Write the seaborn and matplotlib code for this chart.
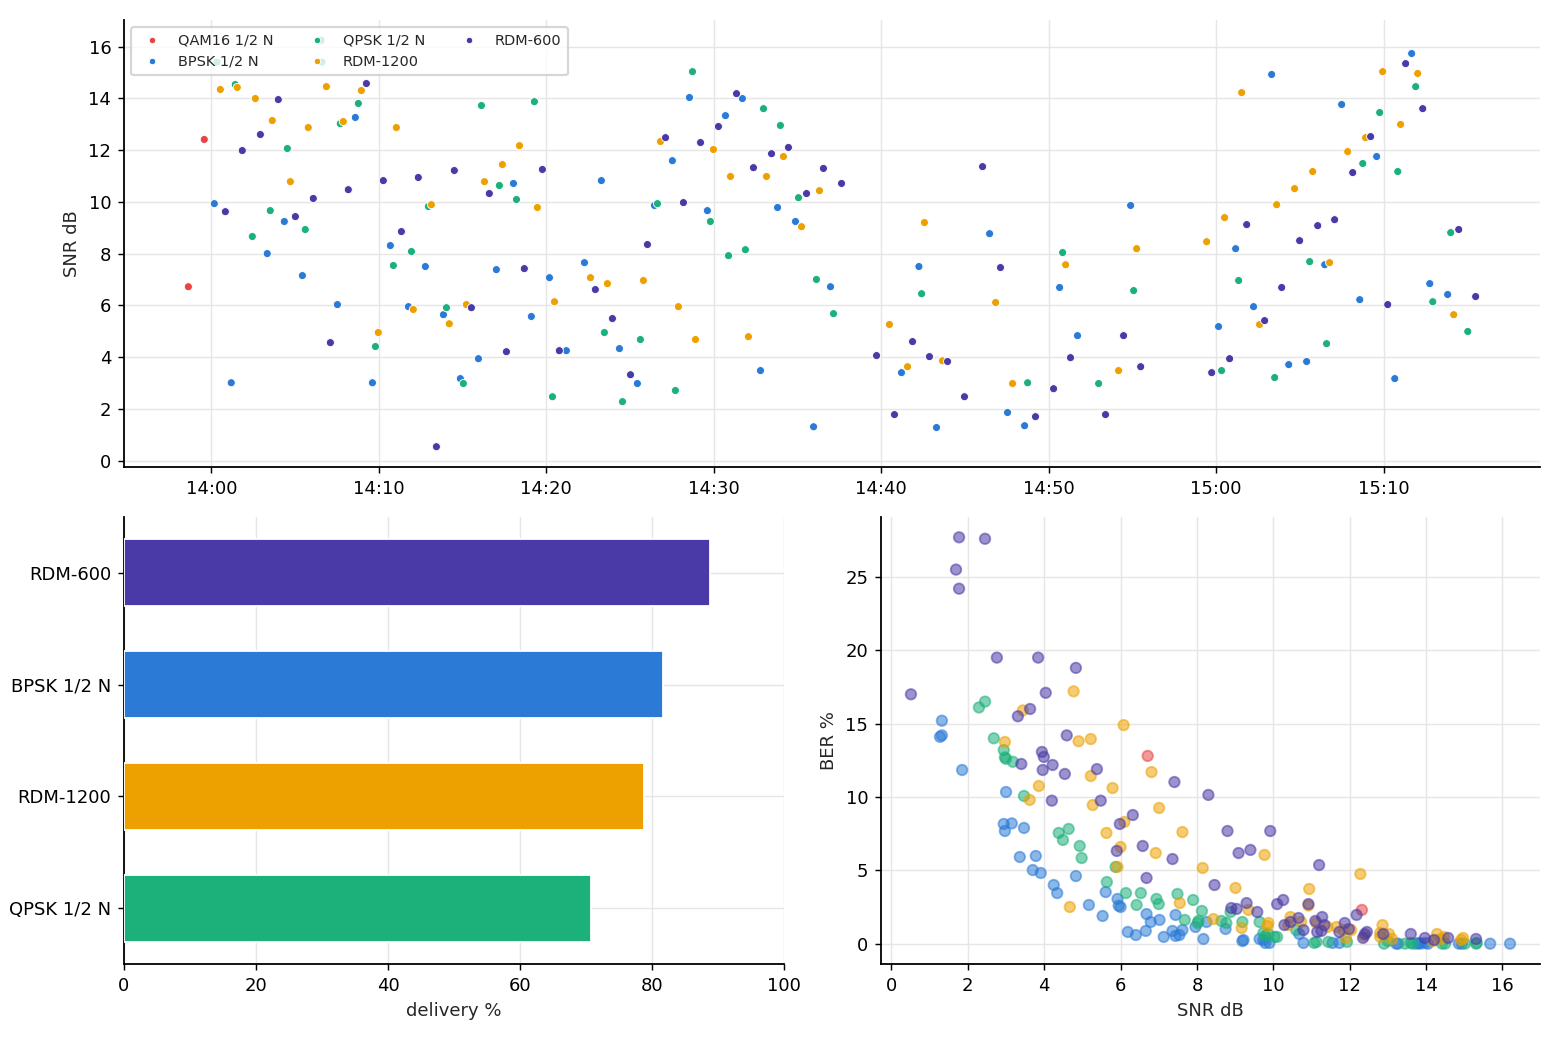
import numpy as np
import pandas as pd
import matplotlib
matplotlib.use("Agg")
import matplotlib.pyplot as plt
import matplotlib.dates as mdates
import seaborn as sns

# ---------------- data ----------------
SERIES = ["QAM16 1/2 N", "BPSK 1/2 N", "QPSK 1/2 N", "RDM-1200", "RDM-600"]
COLORS = ["#e84444", "#2a7ad6", "#1cb07a", "#eda100", "#4a3aa7"]

# SNR over time (minutes after 14:00, SNR dB)
qam_min = [-0.42, -1.37]
qam_snr = [12.41, 6.72]

bpsk_min = [0.18, 4.36, 3.34, 5.44, 8.60, 7.53, 10.69, 12.78, 11.77, 13.86, 15.95, 1.19, 9.62, 14.87,
            18.04, 17.02, 20.19, 19.11, 23.29, 22.28, 21.20, 24.37, 25.44, 26.46, 27.53, 28.55, 29.62,
            30.70, 31.71, 32.79, 33.81, 34.88, 36.97, 35.96, 41.21, 42.25, 43.30, 46.47, 47.54, 48.56,
            50.65, 51.72, 54.89, 60.14, 61.16, 62.23, 63.31, 64.33, 65.40, 66.48, 67.49, 68.57, 69.58,
            70.66, 71.67, 72.75, 73.82]
bpsk_snr = [9.93, 9.24, 8.00, 7.15, 13.26, 6.03, 8.31, 7.50, 5.95, 5.64, 3.94, 3.01, 3.01, 3.17,
            10.71, 7.38, 7.07, 5.57, 10.82, 7.65, 4.25, 4.33, 2.98, 9.86, 11.59, 14.03, 9.66,
            13.33, 13.99, 3.48, 9.78, 9.24, 6.72, 1.31, 3.40, 7.50, 1.28, 8.77, 1.86, 1.35,
            6.69, 4.83, 9.86, 5.18, 8.19, 5.95, 14.92, 3.71, 3.83, 7.57, 13.76, 6.22, 11.75,
            3.17, 15.73, 6.84, 6.42]

qpsk_min = [0.34, 6.55, 6.61, 1.43, 8.78, 7.70, 4.54, 16.13, 19.29, 3.52, 5.61, 2.45, 11.95, 10.87,
            12.96, 14.04, 9.80, 15.05, 17.20, 18.22, 26.64, 29.80, 28.73, 32.97, 33.98, 35.06, 30.88,
            31.89, 36.13, 37.15, 23.47, 25.62, 20.37, 24.55, 27.71, 42.41, 50.83, 55.07, 48.74, 52.98,
            71.91, 69.76, 68.75, 70.84, 74.00, 65.58, 61.34, 72.93, 75.02, 66.59, 60.32, 63.49]
qpsk_snr = [15.40, 16.24, 15.40, 14.53, 13.80, 13.02, 12.06, 13.72, 13.87, 9.66, 8.93, 8.66, 8.08, 7.54,
            9.82, 5.91, 4.41, 2.98, 10.63, 10.09, 9.93, 9.24, 15.03, 13.60, 12.95, 10.16, 7.92,
            8.15, 7.00, 5.68, 4.95, 4.68, 2.47, 2.28, 2.71, 6.45, 8.04, 6.57, 3.01, 2.98,
            14.45, 13.45, 11.48, 11.17, 8.81, 7.69, 6.96, 6.14, 4.99, 4.52, 3.48, 3.21]

rdm1200_min = [0.54, 1.55, 2.63, 3.64, 5.79, 6.87, 7.88, 8.96, 11.05, 4.72, 13.14, 12.06, 14.21, 15.23,
               9.97, 16.31, 17.38, 18.40, 19.47, 20.49, 22.64, 23.65, 25.80, 26.82, 27.89, 28.91, 29.98,
               31.00, 32.07, 33.15, 34.16, 35.24, 36.31, 40.49, 41.57, 42.58, 43.66, 46.83, 47.84, 51.01,
               54.17, 55.25, 59.43, 60.50, 61.52, 62.59, 63.61, 64.68, 65.76, 66.77, 67.85, 68.92, 69.94,
               71.01, 72.03, 74.18]
rdm1200_snr = [14.34, 14.42, 13.99, 13.14, 12.87, 14.45, 13.10, 14.30, 12.87, 10.78, 9.89, 5.84, 5.29, 6.03,
               4.95, 10.78, 11.44, 12.17, 9.78, 6.14, 7.07, 6.84, 6.96, 12.33, 5.95, 4.68, 12.02,
               10.98, 4.79, 10.98, 11.75, 9.04, 10.43, 5.26, 3.63, 9.20, 3.86, 6.11, 2.98, 7.57,
               3.48, 8.19, 8.46, 9.39, 14.22, 5.26, 9.89, 10.51, 11.17, 7.65, 11.94, 12.48, 15.03,
               12.99, 14.96, 5.64]

rdm600_min = [0.84, 1.85, 2.93, 4.00, 5.02, 6.09, 7.11, 8.18, 9.26, 10.27, 11.35, 12.36, 13.44, 14.51,
              15.53, 16.60, 17.62, 18.69, 19.77, 20.78, 22.93, 23.95, 25.03, 26.04, 27.12, 28.19, 29.21,
              30.28, 31.36, 32.37, 33.45, 34.46, 35.54, 36.55, 37.63, 39.72, 40.79, 41.87, 42.88, 43.96,
              44.97, 46.05, 47.12, 49.21, 50.29, 51.30, 53.39, 54.47, 55.49, 59.73, 60.80, 61.82, 62.89,
              63.91, 64.98, 66.06, 67.07, 68.15, 69.22, 70.24, 71.31, 72.33, 74.48, 75.49]
rdm600_snr = [9.62, 11.98, 12.60, 13.95, 9.43, 10.13, 4.56, 10.47, 14.57, 10.82, 8.85, 10.94, 0.54, 11.21,
              5.91, 10.32, 4.21, 7.42, 11.25, 4.25, 6.61, 5.49, 3.32, 8.35, 12.48, 9.97, 12.29,
              12.91, 14.18, 11.32, 11.86, 12.10, 10.32, 11.29, 10.71, 4.06, 1.78, 4.60, 4.02, 3.83,
              2.47, 11.36, 7.46, 1.70, 2.78, 3.98, 1.78, 4.83, 3.63, 3.40, 3.94, 9.12, 5.41,
              6.69, 8.50, 9.08, 9.31, 11.13, 12.52, 6.03, 15.34, 13.60, 8.93, 6.34]

# delivery %
bar_names = ["RDM-600", "BPSK 1/2 N", "RDM-1200", "QPSK 1/2 N"]
bar_values = [88.8, 81.7, 78.8, 70.8]

# BER % vs SNR dB
qam_ber_snr = [6.71, 12.32]
qam_ber = [12.8, 2.3]

bpsk_ber_snr = [1.32, 1.27, 1.32, 1.85, 3.00, 2.94, 3.15, 2.97, 3.47, 3.36, 3.78, 3.70, 3.91, 4.83, 4.25,
                4.34, 5.17, 5.53, 5.61, 5.92, 5.95, 6.00, 6.68, 7.44, 6.79, 7.02, 8.25, 7.96, 8.75, 10.68,
                6.19, 6.40, 6.66, 7.13, 7.36, 7.44, 7.54, 7.62, 8.17, 9.19, 9.22, 9.64, 9.74, 9.79, 9.90,
                10.79, 13.22, 13.27, 13.76, 13.81, 13.86, 13.97, 14.05, 14.86, 14.94, 15.68, 16.20, 11.55, 11.73]
bpsk_ber = [15.2, 14.1, 14.2, 11.84, 10.34, 8.16, 8.2, 7.68, 7.89, 5.91, 5.98, 5.02, 4.82, 4.61, 4.0,
            3.45, 2.64, 1.89, 3.52, 3.05, 2.59, 2.5, 2.02, 1.96, 1.48, 1.62, 1.48, 1.14, 1.0, 0.66,
            0.8, 0.59, 0.87, 0.46, 0.87, 0.53, 0.59, 0.93, 0.32, 0.18, 0.25, 0.32, 0.25, 0.05, 0.05,
            0.05, 0.0, 0.0, 0.0, 0.05, 0.0, 0.05, 0.0, 0.0, 0.0, 0.0, 0.0, 0.05, 0.05]

qpsk_ber_snr = [2.45, 2.29, 2.68, 2.94, 2.97, 3.00, 3.18, 3.47, 4.38, 4.64, 4.49, 4.93, 4.98, 5.87, 5.64,
                6.14, 6.53, 7.49, 6.94, 7.90, 6.42, 7.00, 8.88, 8.13, 7.68, 8.64, 8.77, 8.02, 8.04, 9.19,
                9.64, 10.60, 9.74, 9.87, 9.79, 10.03, 10.10, 11.07, 11.13, 11.44, 11.93, 12.90, 13.00, 13.45,
                13.60, 13.65, 14.42, 14.50, 15.02, 15.31, 15.33]
qpsk_ber = [16.5, 16.1, 14.0, 13.2, 12.7, 12.6, 12.4, 10.07, 7.55, 7.82, 7.07, 6.66, 5.84, 5.23, 4.2,
            3.45, 3.45, 3.39, 3.05, 2.98, 2.64, 2.7, 2.16, 2.23, 1.62, 1.55, 1.41, 1.41, 1.55, 1.48,
            1.48, 0.93, 0.73, 0.66, 0.53, 0.46, 0.46, 0.05, 0.12, 0.12, 0.12, 0.0, 0.18, 0.0,
            0.05, 0.0, 0.0, 0.0, 0.0, 0.0, 0.05]

rdm1200_ber_snr = [4.77, 3.44, 2.97, 4.90, 5.22, 5.22, 3.86, 3.62, 5.27, 6.08, 6.81, 5.79, 7.01, 6.10, 5.63,
                   7.62, 6.00, 6.92, 9.77, 5.92, 8.15, 9.01, 10.94, 4.67, 7.55, 9.35, 8.43, 9.17, 9.87, 9.85,
                   10.39, 10.45, 10.73, 10.92, 12.28, 11.13, 11.42, 11.66, 11.83, 12.04, 11.90, 12.38, 12.86,
                   12.80, 12.80, 13.03, 13.11, 14.18, 14.29, 14.39, 14.47, 14.92, 14.97]
rdm1200_ber = [17.2, 15.9, 13.75, 13.8, 13.95, 11.43, 10.75, 9.8, 9.45, 14.9, 11.7, 10.61, 9.25, 8.3, 7.55,
               7.61, 6.59, 6.18, 6.05, 5.23, 5.16, 3.8, 3.73, 2.5, 2.77, 2.3, 1.68, 1.07, 1.41, 1.2,
               1.27, 1.82, 1.48, 2.6, 4.75, 1.41, 1.14, 1.14, 0.93, 0.93, 0.39, 0.53, 1.27,
               0.73, 0.46, 0.66, 0.32, 0.18, 0.66, 0.32, 0.46, 0.25, 0.39]

rdm600_ber_snr = [1.77, 2.45, 1.69, 1.77, 2.76, 3.84, 4.83, 0.51, 4.04, 3.63, 3.31, 4.59, 3.40, 3.94, 3.99,
                  4.22, 3.96, 4.54, 5.38, 4.20, 5.48, 7.41, 8.30, 6.32, 5.98, 8.80, 9.92, 5.90, 6.58, 9.09,
                  9.40, 7.36, 6.68, 8.46, 8.90, 9.04, 9.30, 9.58, 10.10, 10.26, 10.92, 10.29, 10.45, 10.66,
                  10.79, 11.20, 11.28, 11.10, 11.34, 11.15, 11.26, 12.18, 11.87, 11.73, 11.98, 12.35, 12.40,
                  12.45, 12.88, 13.60, 13.97, 14.21, 14.58, 15.31]
rdm600_ber = [27.7, 27.6, 25.5, 24.2, 19.5, 19.5, 18.8, 17.0, 17.1, 16.0, 15.5, 14.2, 12.25, 13.07, 12.73,
              12.18, 11.84, 11.57, 11.9, 9.75, 9.75, 11.02, 10.14, 8.77, 8.16, 7.68, 7.68, 6.32, 6.66, 6.18,
              6.39, 5.77, 4.48, 4.0, 2.43, 2.37, 2.77, 2.16, 2.7, 2.98, 2.7, 1.27, 1.48, 1.75,
              0.93, 5.36, 1.82, 1.55, 1.27, 0.8, 0.87, 1.96, 1.41, 0.8, 1.0, 0.39, 0.66,
              0.8, 0.66, 0.66, 0.39, 0.25, 0.39, 0.32]

# ---------------- frames ----------------
base = pd.Timestamp("2024-01-01 14:00:00")
snr_parts = []
for name, mins, snr in [(SERIES[0], qam_min, qam_snr), (SERIES[1], bpsk_min, bpsk_snr),
                        (SERIES[2], qpsk_min, qpsk_snr), (SERIES[3], rdm1200_min, rdm1200_snr),
                        (SERIES[4], rdm600_min, rdm600_snr)]:
    snr_parts.append(pd.DataFrame({"time": base + pd.to_timedelta(mins, unit="m"),
                                   "snr": snr, "mode": name}))
df_snr = pd.concat(snr_parts, ignore_index=True)

ber_parts = []
for name, snr, ber in [(SERIES[0], qam_ber_snr, qam_ber), (SERIES[1], bpsk_ber_snr, bpsk_ber),
                       (SERIES[2], qpsk_ber_snr, qpsk_ber), (SERIES[3], rdm1200_ber_snr, rdm1200_ber),
                       (SERIES[4], rdm600_ber_snr, rdm600_ber)]:
    ber_parts.append(pd.DataFrame({"snr": snr, "ber": ber, "mode": name}))
df_ber = pd.concat(ber_parts, ignore_index=True)

df_bar = pd.DataFrame({"mode": bar_names, "delivery": bar_values})
palette = dict(zip(SERIES, COLORS))

# ---------------- plot ----------------
sns.set_theme(style="ticks")
plt.rcParams["font.family"] = ["DejaVu Sans"]
plt.rcParams.update({
    "axes.edgecolor": "black",
    "axes.linewidth": 1.0,
    "xtick.color": "black",
    "ytick.color": "black",
    "xtick.major.size": 3.5,
    "ytick.major.size": 3.5,
    "xtick.major.width": 0.8,
    "ytick.major.width": 0.8,
    "font.size": 10,
    "axes.labelsize": 10,
    "xtick.labelsize": 10,
    "ytick.labelsize": 10,
})

fig = plt.figure(figsize=(12, 8), dpi=130)
W, H = 1560, 1040
ax_top = fig.add_axes([124 / W, 1 - 467 / H, (1540 - 124) / W, (467 - 20) / H])
ax_bar = fig.add_axes([124 / W, 1 - 964 / H, (784 - 124) / W, (964 - 517) / H])
ax_ber = fig.add_axes([881 / W, 1 - 964 / H, (1540 - 881) / W, (964 - 517) / H])

grid_kw = dict(color="#e6e6e6", linewidth=0.8)

# top: SNR over time
sns.scatterplot(data=df_snr, x="time", y="snr", hue="mode", hue_order=SERIES, palette=palette,
                s=20, edgecolor="white", linewidth=0.5, ax=ax_top, zorder=3)
ax_top.set_xlabel("")
ax_top.set_ylabel("SNR dB")
ax_top.xaxis.set_major_locator(mdates.MinuteLocator(byminute=range(0, 60, 10)))
ax_top.xaxis.set_major_formatter(mdates.DateFormatter("%H:%M"))
ax_top.grid(True, **grid_kw)
ax_top.set_axisbelow(True)
leg = ax_top.legend(loc="upper left", ncol=3, fontsize=8, frameon=True, markerscale=0.8,
                    columnspacing=2.0, handletextpad=0.8, borderpad=0.45)
leg.get_frame().set_edgecolor("#cccccc")
leg.get_frame().set_linewidth(1.2)
sns.despine(ax=ax_top)

# bottom-left: delivery
sns.barplot(data=df_bar, y="mode", x="delivery", hue="mode", order=bar_names, hue_order=bar_names,
            palette=palette, width=0.6, legend=False, saturation=1, ax=ax_bar, zorder=3)
ax_bar.set_xlim(0, 100)
ax_bar.set_xlabel("delivery %")
ax_bar.set_ylabel("")
ax_bar.grid(True, **grid_kw)
ax_bar.set_axisbelow(True)
sns.despine(ax=ax_bar)

# bottom-right: BER vs SNR
sns.scatterplot(data=df_ber, x="snr", y="ber", hue="mode", hue_order=SERIES, palette=palette,
                s=34, alpha=0.55, edgecolor="face", linewidth=1.0, legend=False, ax=ax_ber, zorder=3)
ax_ber.set_xlabel("SNR dB")
ax_ber.set_ylabel("BER %")
ax_ber.set_xticks(range(0, 17, 2))
ax_ber.grid(True, **grid_kw)
ax_ber.set_axisbelow(True)
sns.despine(ax=ax_ber)

fig.savefig("out.png", dpi=130)
